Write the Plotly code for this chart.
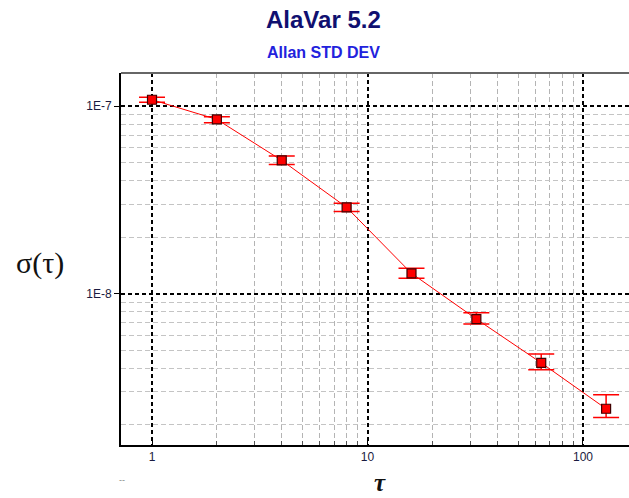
import plotly.graph_objects as go

# data
tau = [1, 2, 4, 8, 16, 32, 64, 128]
sigma = [1.080e-7, 8.48e-8, 5.13e-8, 2.884e-8, 1.284e-8, 7.33e-9, 4.28e-9, 2.438e-9]
err_plus = [3.2e-9, 2.9e-9, 2.9e-9, 1.5e-9, 8.1e-10, 5.9e-10, 5.0e-10, 4.6e-10]
err_minus = [3.4e-9, 3.3e-9, 2.5e-9, 1.4e-9, 7.6e-10, 4.3e-10, 3.5e-10, 2.5e-10]

x_major = [1, 10, 100]
x_major_text = ["1", "10", "100"]
x_minor = [2, 3, 4, 5, 6, 7, 8, 9, 20, 30, 40, 50, 60, 70, 80, 90]
y_major = [1e-8, 1e-7]
y_major_text = ["1E-8", "1E-7"]
y_minor = [2e-9, 3e-9, 4e-9, 5e-9, 6e-9, 7e-9, 8e-9, 9e-9,
           2e-8, 3e-8, 4e-8, 5e-8, 6e-8, 7e-8, 8e-8, 9e-8]

fig = go.Figure()
fig.add_trace(go.Scatter(
    x=tau, y=sigma, mode="lines+markers",
    line=dict(color="#ff0000", width=1),
    marker=dict(symbol="square", size=9, color="#ff0000",
                line=dict(color="#400000", width=1.2)),
    error_y=dict(type="data", array=err_plus, arrayminus=err_minus,
                 symmetric=False, color="#ff0000", thickness=1.5, width=13),
    showlegend=False,
))

tickfont = dict(family="Liberation Sans, Arial, sans-serif", size=12, color="#1a1a40")

fig.update_layout(
    width=629, height=498,
    margin=dict(l=121, r=0, t=73, b=53),
    paper_bgcolor="white", plot_bgcolor="white",
    xaxis=dict(
        type="log", range=[-0.1439, 2.2135],
        tickmode="array", tickvals=x_major, ticktext=x_major_text,
        ticks="inside", ticklen=4, tickcolor="#000",
        showgrid=True, gridcolor="#000000", gridwidth=1.5, griddash="4px,3px",
        showline=True, linecolor="#000000", linewidth=2,
        tickfont=tickfont, zeroline=False,
        minor=dict(tickmode="array", tickvals=x_minor, ticks="inside", ticklen=4,
                   tickcolor="#555", showgrid=True, gridcolor="#b4b4b4",
                   gridwidth=1.2, griddash="5px,3px"),
    ),
    yaxis=dict(
        type="log", range=[-8.806, -6.8242],
        tickmode="array", tickvals=y_major, ticktext=y_major_text,
        ticks="outside", ticklen=5, tickcolor="#000",
        showgrid=True, gridcolor="#000000", gridwidth=1.5, griddash="4px,3px",
        showline=True, linecolor="#000000", linewidth=2,
        tickfont=tickfont, zeroline=False,
        minor=dict(tickmode="array", tickvals=y_minor, ticks="",
                   showgrid=True, gridcolor="#c4c4c4",
                   gridwidth=1.2, griddash="5px,3px"),
    ),
    shapes=[dict(type="line", xref="paper", yref="paper", x0=0, x1=1, y0=1, y1=1,
                 line=dict(color="#666666", width=2))],
    annotations=[
        dict(text="<b>AlaVar 5.2</b>", xref="paper", yref="paper", x=0.398, y=1.145,
             xanchor="center", yanchor="middle", showarrow=False,
             font=dict(family="Liberation Sans, Arial", size=24, color="#101070")),
        dict(text="<b>Allan STD DEV</b>", xref="paper", yref="paper", x=0.398, y=1.054,
             xanchor="center", yanchor="middle", showarrow=False,
             font=dict(family="Liberation Sans, Arial", size=16, color="#2222dd")),
        dict(text="σ(τ)", xref="paper", yref="paper", x=-0.159, y=0.489,
             xanchor="center", yanchor="middle", showarrow=False,
             font=dict(family="Liberation Serif, DejaVu Serif, serif", size=30, color="#111")),
        dict(text="<i><b>τ</b></i>", xref="paper", yref="paper", x=0.51, y=-0.1,
             xanchor="center", yanchor="middle", showarrow=False,
             font=dict(family="Liberation Serif, DejaVu Serif, serif", size=25, color="#111")),
        dict(text="--", xref="paper", yref="paper", x=0.002, y=-0.094,
             xanchor="center", yanchor="middle", showarrow=False,
             font=dict(family="Liberation Sans, Arial", size=9, color="#888")),
    ],
)

fig.write_html("out.html",
               config={"displayModeBar": False},
               post_script="document.body.style.margin='0';document.body.style.overflow='hidden';")
